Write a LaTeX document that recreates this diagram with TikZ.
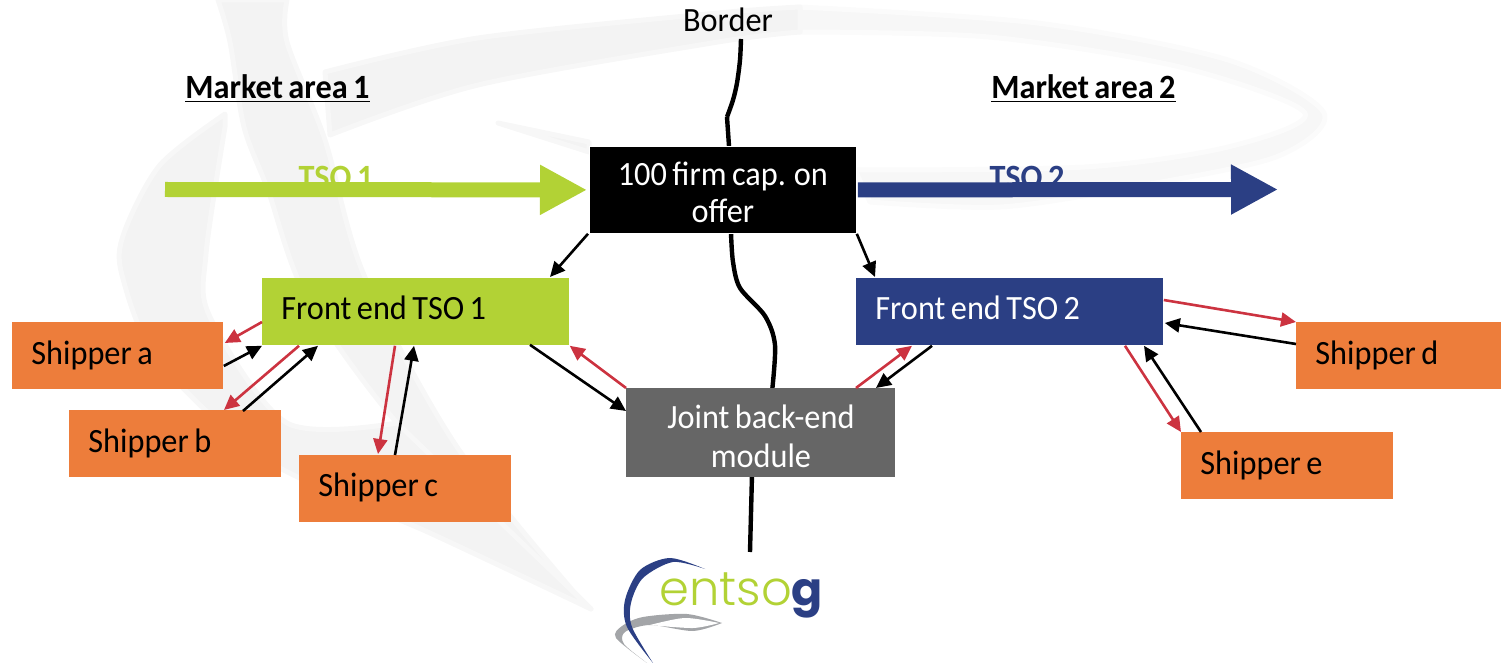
\documentclass[tikz,border=0pt]{standalone}
\usepackage{fontspec}
\setmainfont{Carlito}[FakeStretch=0.95,WordSpace=0.75]
\newfontfamily\logofont[UprightFont={* Light},BoldFont={* Bold}]{Poppins}
\usetikzlibrary{arrows.meta,calc}
\definecolor{lime}{HTML}{B2D235}
\definecolor{navy}{HTML}{2B3F84}
\definecolor{shipperorange}{HTML}{ED7D3B}
\definecolor{flowred}{HTML}{CC3340}
\definecolor{modgrey}{HTML}{666666}
\definecolor{wm}{HTML}{F3F3F3}
\definecolor{wmlight}{HTML}{F7F7F7}
\definecolor{logogrey}{HTML}{A3A5A8}
\tikzset{
  x=.5pt,y=-.5pt,
  txt/.style={font=\fontsize{17}{19}\selectfont},
  basebox/.style={txt,anchor=north west,inner xsep=9.5pt,inner ysep=0pt,align=flush left,minimum height=33.5pt},
  frontbox/.style={basebox,minimum width=153.5pt,text width=134.5pt},
  shipperbox/.style={basebox,fill=shipperorange,text=black,minimum width=106pt,text width=87pt},
  centerbox/.style={txt,anchor=north west,inner sep=0pt,align=center,text=white},
  conn/.style={line width=1.3pt,-{Triangle[length=7.5pt,width=7pt]}},
  blk/.style={conn,black},
  rd/.style={conn,flowred},
  bigarrow/.style={line width=7.5pt,-{Triangle[length=23.5pt,width=23.5pt]}},
  area/.style={font=\fontsize{17}{19}\selectfont\bfseries},
  borderline/.style={line width=2.2pt,black,line cap=butt},
  wmark/.style={fill=wm,draw=wmlight,line width=2.5pt,line join=round},
  wmarkr/.style={fill=wmlight,draw=wmlight!50!white,line width=2.5pt,line join=round}
}
\begin{document}
\begin{tikzpicture}
\useasboundingbox (0,0) rectangle (1501,663);
% watermark
\path[wmark] plot[smooth] coordinates {(218,0)(230,42)(244,127)(268,190)(306,296)(397,423)(526,550)(591,609)}
  -- plot[smooth] coordinates {(574,592)(455,444)(364,275)(325,140)(287,42)(287,0)} -- cycle;
\path[wmark] plot[smooth] coordinates {(225,114)(160,165)(124,233)(122,275)(158,360)(268,461)(430,533)(591,609)}
  -- plot[smooth] coordinates {(397,423)(287,423)(210,317)(206,254)(225,127)} -- cycle;
\path[wmarkr] plot[smooth] coordinates {(798,7)(1037,23)(1228,60)(1324,113)(1276,157)(1133,187)(1000,207)(870,202)}
  -- plot[smooth] coordinates {(855,170)(1085,167)(1228,147)(1305,113)(1180,67)(989,37)(798,32)} -- cycle;
\path[wmark] plot[smooth] coordinates {(325,72)(478,38)(718,13)(800,7)}
  -- plot[smooth] coordinates {(800,32)(718,42)(478,85)(330,135)} -- cycle;
\path[wmark] (498,123) -- (589,142) -- (589,152) -- cycle;
% border line
\draw[borderline] plot[smooth] coordinates {(741,39)(740,60)(737,83)(733,100)(727,117)};
\draw[borderline] (727,117) -- (729,146);
\draw[borderline] plot[smooth] coordinates {(731,233)(733,262)(740,288)(765,316)(775,345)(772,392)};
\draw[borderline] (752,475) -- (750,552);
% labels
\node[txt,text=black] (border) at (728,20) {Border};
\node[area,anchor=center] (ma1) at (277.5,89) {\underline{Market area 1}};
\node[area,anchor=center] (ma2) at (1083.5,89) {\underline{Market area 2}};
\node[area,text=lime,anchor=center] (tso1) at (336,177) {TSO 1};
\node[area,text=navy,anchor=center] (tso2) at (1027,177) {TSO 2};
% boxes
\node[centerbox,fill=black,draw=white,line width=.4pt,minimum width=133.5pt,minimum height=43.5pt] (offer) at (589,146) {\raisebox{-5.75pt}[0pt][0pt]{\parbox{125pt}{\centering\baselineskip=18.5pt 100 firm cap. on\\ offer}}};
\node[frontbox,fill=lime,text=black] (front1) at (262,278) {\raisebox{4pt}{Front end TSO 1}};
\node[frontbox,fill=navy,text=white] (front2) at (856,278) {\raisebox{4pt}{Front end TSO 2}};
\node[centerbox,fill=modgrey,minimum width=134.5pt,minimum height=44.5pt] (joint) at (626,388) {\raisebox{-6.25pt}[0pt][0pt]{\parbox{125pt}{\centering\baselineskip=19.5pt Joint back-end\\ module}}};
\node[shipperbox,minimum width=105.5pt,text width=86.5pt] (a) at (12,322) {\raisebox{3pt}{Shipper a}};
\node[shipperbox] (b) at (69,410) {\raisebox{1.5pt}{Shipper b}};
\node[shipperbox] (c) at (299,455) {\raisebox{4pt}{Shipper c}};
\node[shipperbox,minimum width=102.5pt,text width=83.5pt] (d) at (1296,322) {\raisebox{3pt}{Shipper d}};
\node[shipperbox] (e) at (1181,432) {\raisebox{1.5pt}{Shipper e}};
% big arrows
\coordinate (tsoAstart) at (165,189.5);
\coordinate (tsoBend) at (1278,189.5);
\draw[bigarrow,lime] (tsoAstart) -- ([xshift=-1pt]offer.west);
\draw[bigarrow,navy] ([xshift=.5pt]offer.east) -- (tsoBend);
% connectors
\draw[blk] ([shift={(-1,0)}]offer.south west) -- ([shift={(288,-1)}]front1.north west);
\draw[blk] (offer.south east) -- ([shift={(19,-1)}]front2.north west);
\draw[rd] ([shift={(0,44)}]front1.north west) -- ([shift={(1,21)}]a.north east);
\draw[blk] ([shift={(0,44)}]a.north east) -- (front1.south west);
\draw[rd] ([shift={(37,0)}]front1.south west) -- ([shift={(155,0)}]b.north west);
\draw[blk] ([shift={(174,1)}]b.north west) -- ([shift={(56,0)}]front1.south west);
\draw[rd] ([shift={(133,0)}]front1.south west) -- ([shift={(79,-1)}]c.north west);
\draw[blk] ([shift={(96,0)}]c.north west) -- ([shift={(152,0)}]front1.south west);
\draw[blk] ([shift={(268,-1)}]front1.south west) -- ([shift={(0,23)}]joint.north west);
\draw[rd] (joint.north west) -- (front1.south east);
\draw[rd] ([shift={(230,0)}]joint.north west) -- ([shift={(56,0)}]front2.south west);
\draw[blk] ([shift={(76,0)}]front2.south west) -- ([shift={(250,0)}]joint.north west);
\draw[rd] ([shift={(0,22)}]front2.north east) -- (d.north west);
\draw[blk] ([shift={(0,22)}]d.north west) -- ([shift={(1,45)}]front2.north east);
\draw[rd] ([shift={(269,0)}]front2.south west) -- (e.north west);
\draw[blk] ([shift={(20,0)}]e.north west) -- ([shift={(288,0)}]front2.south west);
% logo
\fill[logogrey] plot[smooth] coordinates {(722,623)(687,614)(643,617)(622,626)(616,638)(647,663)}
  -- plot[smooth] coordinates {(647,663)(624,644)(625,632)(650,625)(693,631)(722,623)} -- cycle;
\fill[white] plot[smooth] coordinates {(650,625)(685,618)(719,623)}
  -- plot[smooth] coordinates {(719,623)(693,628)(650,625)} -- cycle;
\fill[navy] plot[smooth] coordinates {(705,569)(670,558)(640,570)(625,600)(627,627)(653,663)}
  -- plot[smooth] coordinates {(653,663)(632,627)(631,603)(643,578)(673,562)(705,569)} -- cycle;
\node[anchor=base west,inner sep=0pt,text=lime,font=\logofont\fontsize{24}{24}\selectfont] (entso) at (659,605) {entso};
\node[anchor=base west,inner sep=0pt,text=navy,font=\logofont\bfseries\fontsize{23}{23}\selectfont] (entsog) at (791,605) {g};
\end{tikzpicture}
\end{document}
